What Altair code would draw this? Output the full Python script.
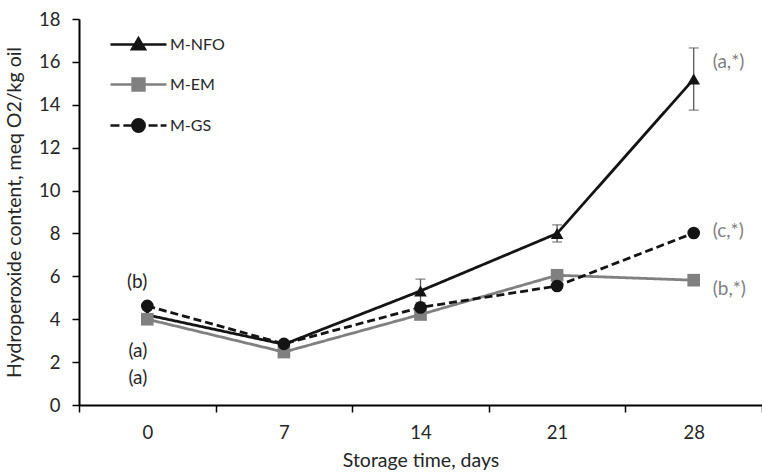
import altair as alt
import pandas as pd

days = ["0", "7", "14", "21", "28"]
series = ["M-NFO", "M-EM", "M-GS"]
nfo = [4.2, 2.83, 5.32, 8.0, 15.2]
nfo_err = [0.1, 0.1, 0.55, 0.4, 1.45]
em = [4.0, 2.47, 4.22, 6.05, 5.82]
gs = [4.62, 2.85, 4.55, 5.55, 8.02]

left_notes = ["(b)", "(a)", "(a)"]
left_note_y = [5.72, 2.5, 1.25]
right_notes = ["(a,*)", "(c,*)", "(b,*)"]
right_note_y = [16.0, 8.1, 5.4]

colors = ["#141414", "#808080", "#141414"]
dashes = [[1, 0], [1, 0], [8, 4]]
point_shapes = ["triangle-up", "square", "circle"]
FONT = "Lato"

rows = []
for s, vals in zip(series, [nfo, em, gs]):
    for d, v in zip(days, vals):
        rows.append({"day": d, "series": s, "value": v})
df = pd.DataFrame(rows)

err_df = pd.DataFrame({
    "day": days,
    "lo": [v - e for v, e in zip(nfo, nfo_err)],
    "hi": [v + e for v, e in zip(nfo, nfo_err)],
})
err_df = err_df[err_df["day"].isin(["14", "21", "28"])]

ln = pd.DataFrame({"day": ["0"] * 3, "txt": left_notes, "y": left_note_y})
rn = pd.DataFrame({"day": ["28"] * 3, "txt": right_notes, "y": right_note_y})

xenc = alt.X("day:O", sort=days,
             scale=alt.Scale(type="band", paddingInner=0, paddingOuter=0),
             axis=alt.Axis(title="Storage time, days", labelAngle=0, tickBand="extent",
                           labelPadding=11, titlePadding=10))
yscale = alt.Scale(domain=[0, 18], nice=False)
yenc = alt.Y("value:Q", scale=yscale,
             axis=alt.Axis(title="Hydroperoxide content, meq O2/kg oil",
                           values=list(range(0, 19, 2)), labelPadding=12, titlePadding=14))
xs = alt.X("day:O", sort=days)
ys = alt.Y("value:Q", scale=yscale)

line_layers = []
marker_layers = []
for i, (s, c, dsh, shp) in enumerate(zip(series, colors, dashes, point_shapes)):
    base = alt.Chart(df).transform_filter(alt.datum.series == s)
    line_layers.append(base.mark_line(strokeWidth=2.8, color=c, strokeDash=dsh).encode(
        x=xenc if i == 0 else xs, y=yenc if i == 0 else ys))
    marker_layers.append(base.mark_point(filled=True, size=160, opacity=1, color=c, shape=shp).encode(
        x=xs, y=ys))

err_rule = alt.Chart(err_df).mark_rule(color="#595959", strokeWidth=1.3).encode(
    x=xs, y=alt.Y("lo:Q", scale=yscale), y2="hi:Q")
err_lo = alt.Chart(err_df).mark_tick(color="#595959", thickness=1.3, size=10).encode(
    x=xs, y=alt.Y("lo:Q", scale=yscale))
err_hi = alt.Chart(err_df).mark_tick(color="#595959", thickness=1.3, size=10).encode(
    x=xs, y=alt.Y("hi:Q", scale=yscale))

tri = "M-1,0L1,0M0,-0.22L0.23,0.17L-0.23,0.17Z"
sq = "M-1,0L1,0M-0.21,-0.21L0.21,-0.21L0.21,0.21L-0.21,0.21Z"
circ = ("M-1,0L-0.68,0M-0.54,0L-0.23,0M0.36,0L0.68,0M0.79,0L1,0"
        "M-0.22,0A0.22,0.22 0 1 0 0.22,0A0.22,0.22 0 1 0 -0.22,0Z")

leg = alt.Legend(title=None, orient="none", legendX=30, legendY=-4,
                 symbolSize=3136, symbolStrokeWidth=2.6, symbolOpacity=1,
                 labelFontSize=16, labelFont=FONT, labelColor="#262626",
                 labelOffset=2, padding=0, rowPadding=-13)

legend_layer = alt.Chart(df).transform_filter(alt.datum.value < -100).mark_point(
    filled=True, opacity=1, strokeWidth=2.6).encode(
    x=xs, y=ys,
    shape=alt.Shape("series:N", scale=alt.Scale(domain=series, range=[tri, sq, circ]), legend=leg),
    stroke=alt.Stroke("series:N", scale=alt.Scale(domain=series, range=colors), legend=leg),
    fill=alt.Fill("series:N", scale=alt.Scale(domain=series, range=colors), legend=leg),
)

left_txt = alt.Chart(ln).mark_text(align="right", baseline="middle", fontSize=19, font=FONT,
                                    color="#262626", dx=0).encode(
    x=xs, y=alt.Y("y:Q", scale=yscale), text="txt:N")
right_txt = alt.Chart(rn).mark_text(align="left", baseline="middle", fontSize=19, font=FONT,
                                     color="#7f7f7f", dx=19).encode(
    x=xs, y=alt.Y("y:Q", scale=yscale), text="txt:N")

chart = alt.layer(*line_layers, err_rule, err_lo, err_hi, *marker_layers, legend_layer, left_txt, right_txt).properties(
    width=683, height=386,
    autosize=alt.AutoSizeParams(type="none"),
    padding={"left": 79, "top": 19, "right": 0, "bottom": 67},
).configure_view(stroke=None).configure_axis(
    domainColor="#000000", domainWidth=2, tickColor="#000000", tickWidth=1.5, tickSize=7,
    labelFont=FONT, labelFontSize=18.5, labelColor="#262626",
    titleFont=FONT, titleFontSize=19.5, titleColor="#262626", titleFontWeight="normal", grid=False,
)

chart.save("out.html", embed_options={"renderer": "svg", "actions": False})
